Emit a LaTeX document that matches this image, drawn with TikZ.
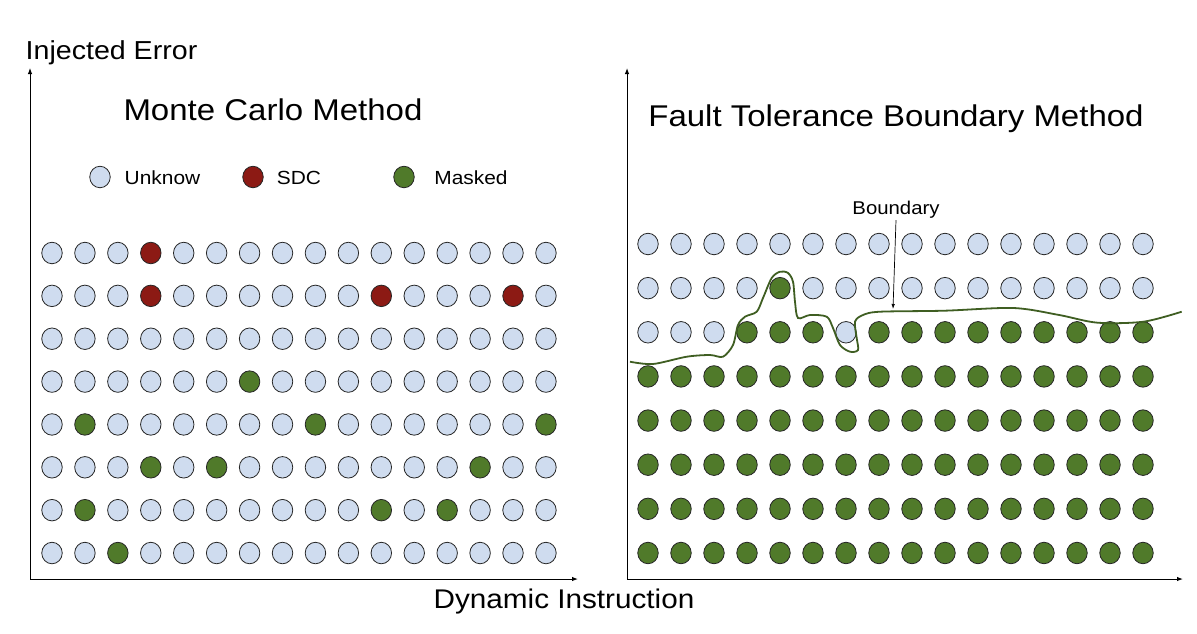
\documentclass[tikz,border=0pt]{standalone}
\usepackage{fontspec}
\setmainfont[FakeStretch=1.1]{Liberation Sans}
\usetikzlibrary{arrows.meta,shapes.geometric}
\definecolor{unkfill}{HTML}{CFDCEF}
\definecolor{sdcfill}{HTML}{8C1A14}
\definecolor{mskfill}{HTML}{507A2A}
\definecolor{bnd}{HTML}{3F5E22}
\begin{document}
\begin{tikzpicture}[x=1pt,y=-1pt,
  dot/.style={ellipse,inner sep=0pt,minimum width=20.5pt,minimum height=21.5pt,draw=black!85,line width=0.8pt},
  unk/.style={dot,fill=unkfill},
  sdc/.style={dot,fill=sdcfill},
  msk/.style={dot,fill=mskfill},
  axis/.style={line width=1pt,-{Latex[length=6pt,width=4.5pt]}},
  ptr/.style={line width=0.7pt,-{Latex[length=5pt,width=3.5pt]}},
  txt/.style={anchor=base,inner sep=2pt},
  big/.style={txt,font=\fontsize{30}{34}\selectfont},
  mid/.style={txt,font=\fontsize{27}{31}\selectfont},
  sml/.style={txt,font=\fontsize{19}{22}\selectfont},
]
\useasboundingbox (0,0) rectangle (1197,633);
% axes
\coordinate (LO) at (30,579); \coordinate (LY) at (30,68); \coordinate (LX) at (578,579);
\coordinate (RO) at (627,579); \coordinate (RY) at (627,68); \coordinate (RX) at (1183,579);
\draw[axis] (LO) -- (LY);
\draw[axis] (LO) -- (LX);
\draw[axis] (RO) -- (RY);
\draw[axis] (RO) -- (RX);
% texts
\node[txt,font=\fontsize{26}{30}\selectfont] (yl) at (111.5,59) {Injected Error};
\node[mid] (xl) at (564,608) {Dynamic Instruction};
\node[big] (t1) at (273,120) {Monte Carlo Method};
\node[big] (t2) at (896,126) {Fault Tolerance Boundary Method};
% legend
\node[unk] (k1) at (100,177) {};
\node[sdc] (k2) at (253,177) {};
\node[msk] (k3) at (404,177) {};
\node[sml] (k1t) at (162.5,184) {Unknow};
\node[sml] (k2t) at (299,184) {SDC};
\node[sml] (k3t) at (471,184) {Masked};
% left grid
\foreach \r/\row in {
 1/{unk,unk,unk,sdc,unk,unk,unk,unk,unk,unk,unk,unk,unk,unk,unk,unk},
 2/{unk,unk,unk,sdc,unk,unk,unk,unk,unk,unk,sdc,unk,unk,unk,sdc,unk},
 3/{unk,unk,unk,unk,unk,unk,unk,unk,unk,unk,unk,unk,unk,unk,unk,unk},
 4/{unk,unk,unk,unk,unk,unk,msk,unk,unk,unk,unk,unk,unk,unk,unk,unk},
 5/{unk,msk,unk,unk,unk,unk,unk,unk,msk,unk,unk,unk,unk,unk,unk,msk},
 6/{unk,unk,unk,msk,unk,msk,unk,unk,unk,unk,unk,unk,unk,msk,unk,unk},
 7/{unk,msk,unk,unk,unk,unk,unk,unk,unk,unk,msk,unk,msk,unk,unk,unk},
 8/{unk,unk,msk,unk,unk,unk,unk,unk,unk,unk,unk,unk,unk,unk,unk,unk}}{
  \foreach \k [count=\c] in \row {
    \node[\k] (L-\r-\c) at ({52+(\c-1)*32.93},{253+(\r-1)*42.86}) {};
  }
}
% right grid
\foreach \r/\row in {
 1/{unk,unk,unk,unk,unk,unk,unk,unk,unk,unk,unk,unk,unk,unk,unk,unk},
 2/{unk,unk,unk,unk,msk,unk,unk,unk,unk,unk,unk,unk,unk,unk,unk,unk},
 3/{unk,unk,unk,msk,msk,msk,unk,msk,msk,msk,msk,msk,msk,msk,msk,msk},
 4/{msk,msk,msk,msk,msk,msk,msk,msk,msk,msk,msk,msk,msk,msk,msk,msk},
 5/{msk,msk,msk,msk,msk,msk,msk,msk,msk,msk,msk,msk,msk,msk,msk,msk},
 6/{msk,msk,msk,msk,msk,msk,msk,msk,msk,msk,msk,msk,msk,msk,msk,msk},
 7/{msk,msk,msk,msk,msk,msk,msk,msk,msk,msk,msk,msk,msk,msk,msk,msk},
 8/{msk,msk,msk,msk,msk,msk,msk,msk,msk,msk,msk,msk,msk,msk,msk,msk}}{
  \foreach \k [count=\c] in \row {
    \node[\k] (R-\r-\c) at ({648+(\c-1)*33},{244+(\r-1)*44.14}) {};
  }
}
% boundary curve
\draw[bnd,line width=1.8pt] plot[smooth,tension=0.5] coordinates {
 (630,361.7) (653,364) (686.7,356.7) (710,355) (723,356.7) (733,345) (738,325)
 (745,316.7) (756.7,311.7) (763,298) (771.7,278) (780,271.7) (788,273) (793,281.7)
 (795,301.7) (798,318) (810,315) (826.7,316.7) (833,328) (840,345) (850,351.7)
 (858,350) (856.7,338) (855,321.7) (863,315) (880,311.7) (944.4,310.7) (1013.3,308)
 (1059.2,315) (1097.5,322.7) (1143.4,321.7) (1181.7,311.7)};
\node[sml,font=\fontsize{18.5}{22}\selectfont] (bl) at (896,214) {Boundary};
\coordinate (bt) at (893,309);
\draw[ptr] (bl.south) -- (bt);
\end{tikzpicture}
\end{document}
